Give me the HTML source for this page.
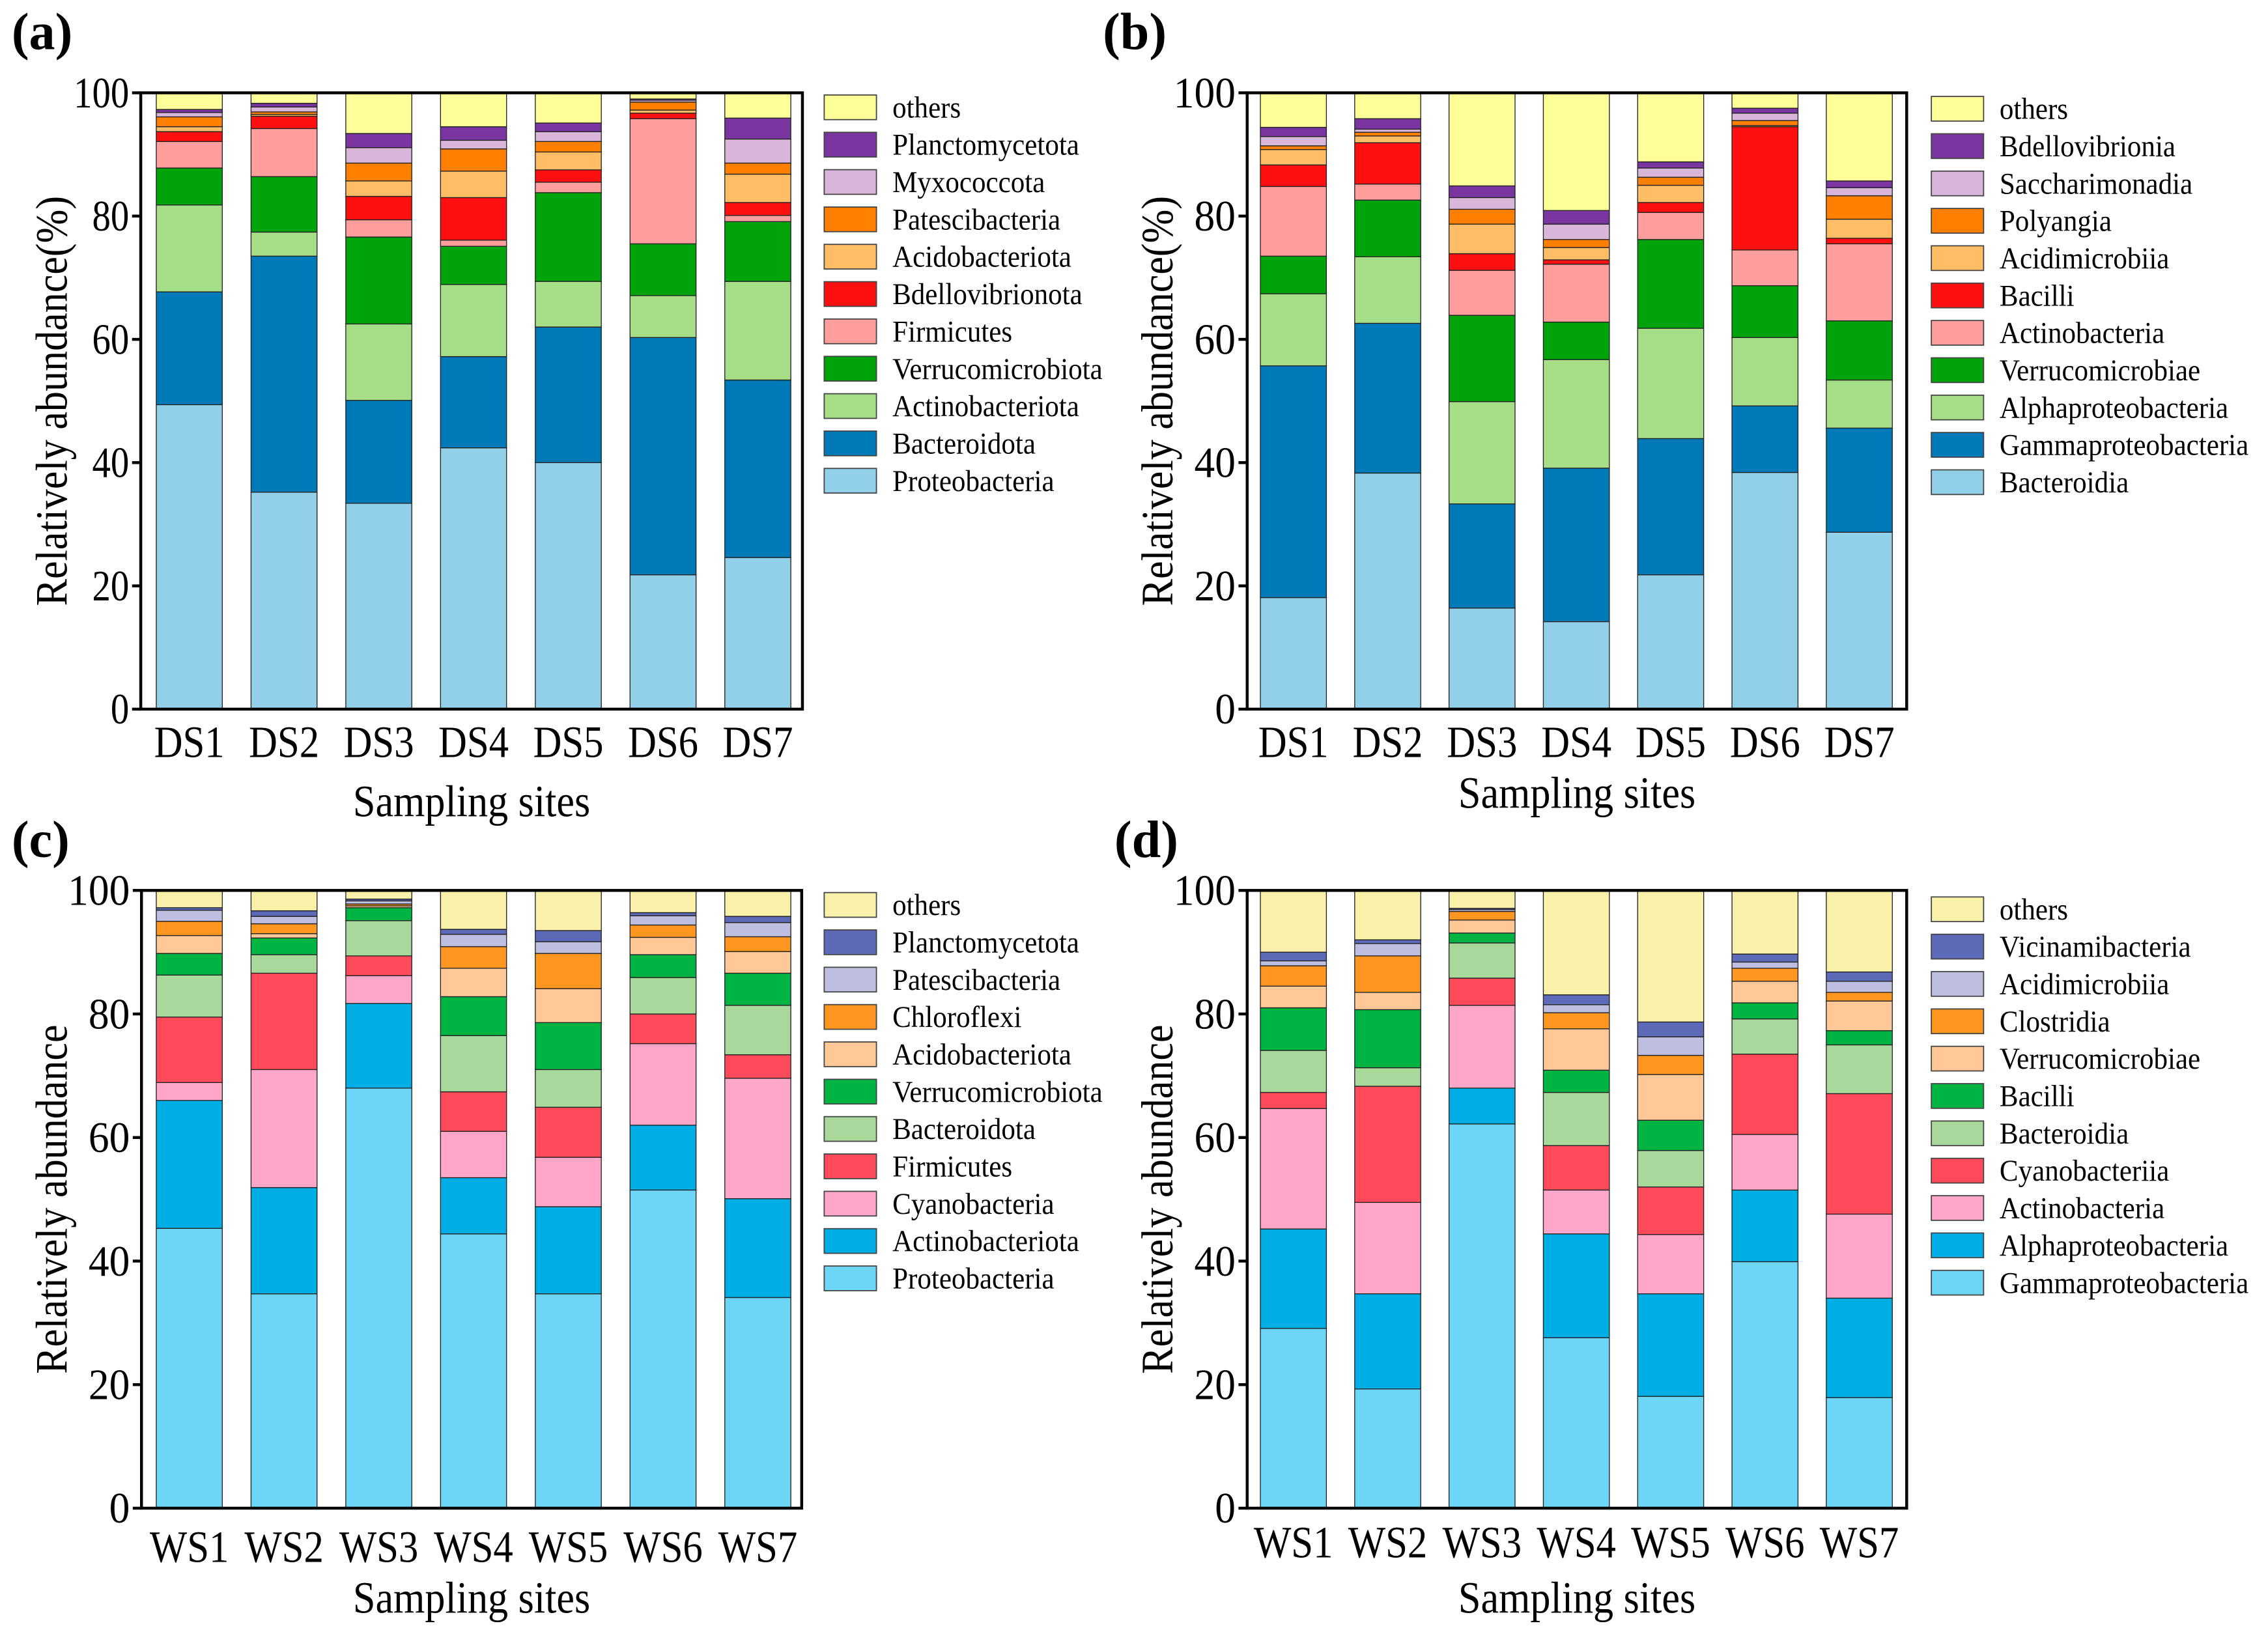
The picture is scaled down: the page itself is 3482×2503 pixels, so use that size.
<!DOCTYPE html>
<html><head><meta charset="utf-8"><style>
html,body{margin:0;padding:0;background:#fff;}
svg{display:block;}
text{font-family:"Liberation Serif",serif;fill:#000;}
</style></head><body>
<svg id="fig" width="3482" height="2503" viewBox="0 0 1563 1124" preserveAspectRatio="none" xmlns="http://www.w3.org/2000/svg"></svg>
<script>
// ---------- Panel (a) data: phylum level, DS sites ----------
const sitesA = ["DS1","DS2","DS3","DS4","DS5","DS6","DS7"];
const taxaA = ["Proteobacteria","Bacteroidota","Actinobacteriota","Verrucomicrobiota","Firmicutes","Bdellovibrionota","Acidobacteriota","Patescibacteria","Myxococcota","Planctomycetota","others"];
const a_proteobacteria = [49.4,35.2,33.4,42.4,40.0,21.8,24.6];
const a_bacteroidota   = [18.3,38.3,16.7,14.8,22.0,38.5,28.8];
const a_actinobacteriota=[14.1,3.9,12.4,11.7,7.4,6.8,16.0];
const a_verrucomicrobiota=[6.0,9.0,14.1,6.2,14.4,8.4,9.7];
const a_firmicutes     = [4.3,7.8,2.8,1.0,1.7,20.3,1.0];
const a_bdellovibrionota=[1.6,2.0,3.8,6.9,2.0,0.9,2.1];
const a_acidobacteriota= [0.8,0.3,2.5,4.3,2.9,0.5,4.6];
const a_patescibacteria= [1.6,0.4,2.9,3.6,1.7,1.3,1.8];
const a_myxococcota    = [0.7,0.8,2.5,1.4,1.6,0.3,3.9];
const a_planctomycetota= [0.5,0.6,2.3,2.2,1.4,0.2,3.4];
const a_others         = [2.7,1.7,6.6,5.5,4.9,1.0,4.1];

// ---------- Panel (b) data: class level, DS sites ----------
const sitesB = ["DS1","DS2","DS3","DS4","DS5","DS6","DS7"];
const taxaB = ["Bacteroidia","Gammaproteobacteria","Alphaproteobacteria","Verrucomicrobiae","Actinobacteria","Bacilli","Acidimicrobiia","Polyangia","Saccharimonadia","Bdellovibrionia","others"];
const b_bacteroidia    = [18.1,38.3,16.4,14.2,21.8,38.4,28.7];
const b_gamma          = [37.6,24.3,16.9,24.9,22.1,10.8,16.9];
const b_alpha          = [11.7,10.8,16.6,17.6,17.9,11.1,7.8];
const b_verrucomicrobiae=[6.1,9.2,14.0,6.1,14.4,8.4,9.6];
const b_actinobacteria = [11.3,2.6,7.3,9.4,4.4,5.8,12.5];
const b_bacilli        = [3.5,6.7,2.7,0.7,1.6,20.0,0.9];
const b_acidimicrobiia = [2.5,1.1,4.8,2.0,2.8,0.2,3.1];
const b_polyangia      = [0.6,0.6,2.4,1.3,1.3,0.8,3.8];
const b_saccharimonadia= [1.5,0.5,1.9,2.5,1.5,1.2,1.3];
const b_bdellovibrionia= [1.5,1.7,1.9,2.2,1.0,0.8,1.1];
const b_others         = [5.6,4.2,15.1,19.1,11.2,2.5,14.3];

// ---------- Panel (c) data: phylum level, WS sites ----------
const sitesC = ["WS1","WS2","WS3","WS4","WS5","WS6","WS7"];
const taxaC = ["Proteobacteria","Actinobacteriota","Cyanobacteria","Firmicutes","Bacteroidota","Verrucomicrobiota","Acidobacteriota","Chloroflexi","Patescibacteria","Planctomycetota","others"];
const c_proteobacteria = [45.3,34.7,68.0,44.4,34.7,51.5,34.1];
const c_actinobacteriota=[20.7,17.2,13.7,9.1,14.1,10.5,16.0];
const c_cyanobacteria  = [2.9,19.1,4.5,7.5,8.0,13.2,19.5];
const c_firmicutes     = [10.6,15.6,3.2,6.4,8.1,4.8,3.8];
const c_bacteroidota   = [6.8,3.0,5.7,9.1,6.1,5.9,8.0];
const c_verrucomicrobiota=[3.5,2.7,2.1,6.3,7.6,3.7,5.2];
const c_acidobacteriota= [2.9,0.7,0.3,4.6,5.5,2.8,3.5];
const c_chloroflexi    = [2.3,1.6,0.3,3.5,5.7,2.0,2.4];
const c_patescibacteria= [1.8,1.2,0.5,2.0,1.9,1.5,2.3];
const c_planctomycetota= [0.4,0.9,0.3,0.8,1.8,0.5,1.0];
const c_others         = [2.8,3.3,1.4,6.3,6.5,3.6,4.2];

// ---------- Panel (d) data: class level, WS sites ----------
const sitesD = ["WS1","WS2","WS3","WS4","WS5","WS6","WS7"];
const taxaD = ["Gammaproteobacteria","Alphaproteobacteria","Actinobacteria","Cyanobacteriia","Bacteroidia","Bacilli","Verrucomicrobiae","Clostridia","Acidimicrobiia","Vicinamibacteria","others"];
const d_gamma          = [29.1,19.3,62.2,27.6,18.1,39.9,17.9];
const d_alpha          = [16.1,15.4,5.8,16.8,16.6,11.6,16.1];
const d_actinobacteria = [19.5,14.8,13.4,7.1,9.6,9.0,13.6];
const d_cyanobacteriia = [2.6,18.8,4.4,7.2,7.7,13.0,19.5];
const d_bacteroidia    = [6.8,3.0,5.7,8.6,5.9,5.7,7.9];
const d_bacilli        = [6.9,9.4,1.6,3.6,4.9,2.6,2.3];
const d_verrucomicrobiae=[3.5,2.8,2.1,6.7,7.4,3.5,4.8];
const d_clostridia     = [3.3,5.9,1.4,2.6,3.1,2.1,1.4];
const d_acidimicrobiia = [0.8,2.0,0.3,1.3,3.0,1.0,1.8];
const d_vicinamibacteria=[1.4,0.6,0.2,1.6,2.4,1.3,1.5];
const d_others         = [10.0,8.0,2.9,16.9,21.3,10.3,13.2];

const yTicks = [0,20,40,60,80,100];

const NS="http://www.w3.org/2000/svg";
const svg=document.getElementById('fig');
function mk(tag,attrs,parent){const e=document.createElementNS(NS,tag);for(const k in attrs)e.setAttribute(k,attrs[k]);(parent||svg).appendChild(e);return e;}
function txt(parent,x,y,size,anchor,sx,str,extra){
  const t=mk('text',Object.assign({x:0,y:0,'font-size':size,'text-anchor':anchor,transform:`translate(${x},${y}) scale(${sx},1)`},extra||{}),parent);
  t.textContent=str;return t;
}

const palAB=["#92cfe8","#0079b8","#a6de88","#00a30a","#ff9e9c","#ff1010","#ffbd66","#ff7f00","#d9b5d9","#7a35a0","#ffff99"];
const palCD=["#6dd5f6","#00aee6","#ffa6c9","#ff4a5a","#a8d89a","#00b444","#ffc896","#ff9620","#bdbee0","#5d6ab8","#f9f0aa"];

function panel(cfg){
  const g=mk('g',{});
  
  
  const L=cfg.left,R=cfg.right,T=cfg.top,B=cfg.bottom;
  const yS=v=>B-(B-T)*v/100;
  const xS=i=>cfg.bar0+i*cfg.step;
  const bw=45.5;
  cfg.sites.forEach((s,i)=>{
    let acc=0;
    cfg.series.forEach((arr,k)=>{
      const v=arr[i];
      const y0=yS(acc),y1=yS(acc+v);
      const r=mk('rect',{x:xS(i),y:y1,width:bw,height:Math.max(0,y0-y1),fill:cfg.pal[k],stroke:'#222','stroke-width':0.6},g);
      
      
      acc+=v;
    });
    const t=txt(g,xS(i)+bw/2,cfg.xlabY,31,'middle',0.88,s);
    
    
  });
  const fr=mk('rect',{x:L,y:T,width:R-L,height:B-T,fill:'none',stroke:'#000','stroke-width':2},g);
  
  
  yTicks.forEach(v=>{
    mk('line',{x1:L-6,x2:L,y1:yS(v),y2:yS(v),stroke:'#000','stroke-width':2},g);
    const t=txt(g,L-8,yS(v)+10,30,'end',cfg.tickSx,String(v));
    
    
  });
  const xt=txt(g,(L+R)/2,cfg.xtitleY,31,'middle',0.9,'Sampling sites');
  
  
  const yt=mk('text',{x:0,y:0,'font-size':31,'text-anchor':'middle',transform:`translate(${cfg.ytitleX},${(T+B)/2}) rotate(-90) scale(0.9,1)`},g);
  yt.textContent=cfg.ytitle;
  
  
  const lt=mk('text',{x:cfg.letterX,y:cfg.letterY,'font-size':36,'font-weight':'bold'},g);
  lt.textContent=cfg.letter;
  
  
  for(let k=cfg.taxa.length-1,j=0;k>=0;k--,j++){
    const cy=cfg.legY+j*25.75;
    const sw=mk('rect',{x:cfg.legX,y:cy-8.5,width:36,height:17,fill:cfg.pal[k],stroke:'#444','stroke-width':0.8},g);
    
    
    const tx=txt(g,cfg.legX+47,cy+7,21,'start',0.92,cfg.taxa[k]);
    
    
  }
}

panel({name:'panel-a',letter:'(a)',letterX:8,letterY:34,left:97,right:553,top:64,bottom:489,bar0:107.7,step:65.3,tickSx:0.85,
  sites:sitesA,taxa:taxaA,pal:palAB,series:[a_proteobacteria,a_bacteroidota,a_actinobacteriota,a_verrucomicrobiota,a_firmicutes,a_bdellovibrionota,a_acidobacteriota,a_patescibacteria,a_myxococcota,a_planctomycetota,a_others],
  xlabY:522,xtitleY:563,ytitle:'Relatively abundance(%)',ytitleX:46,legX:568,legY:74});
panel({name:'panel-b',letter:'(b)',letterX:760,letterY:34,left:859.5,right:1314,top:64,bottom:489,bar0:868.6,step:65.0,tickSx:0.95,
  sites:sitesB,taxa:taxaB,pal:palAB,series:[b_bacteroidia,b_gamma,b_alpha,b_verrucomicrobiae,b_actinobacteria,b_bacilli,b_acidimicrobiia,b_polyangia,b_saccharimonadia,b_bdellovibrionia,b_others],
  xlabY:522,xtitleY:557,ytitle:'Relatively abundance(%)',ytitleX:808,legX:1331,legY:75});
panel({name:'panel-c',letter:'(c)',letterX:8,letterY:591,left:97.5,right:552.5,top:614,bottom:1040,bar0:107.7,step:65.3,tickSx:0.95,
  sites:sitesC,taxa:taxaC,pal:palCD,series:[c_proteobacteria,c_actinobacteriota,c_cyanobacteria,c_firmicutes,c_bacteroidota,c_verrucomicrobiota,c_acidobacteriota,c_chloroflexi,c_patescibacteria,c_planctomycetota,c_others],
  xlabY:1077,xtitleY:1112,ytitle:'Relatively abundance',ytitleX:46,legX:568,legY:624});
panel({name:'panel-d',letter:'(d)',letterX:768,letterY:591,left:859.5,right:1314,top:614,bottom:1040,bar0:868.6,step:65.0,tickSx:0.95,
  sites:sitesD,taxa:taxaD,pal:palCD,series:[d_gamma,d_alpha,d_actinobacteria,d_cyanobacteriia,d_bacteroidia,d_bacilli,d_verrucomicrobiae,d_clostridia,d_acidimicrobiia,d_vicinamibacteria,d_others],
  xlabY:1074,xtitleY:1112,ytitle:'Relatively abundance',ytitleX:808,legX:1331,legY:627});
</script>
</body></html>
